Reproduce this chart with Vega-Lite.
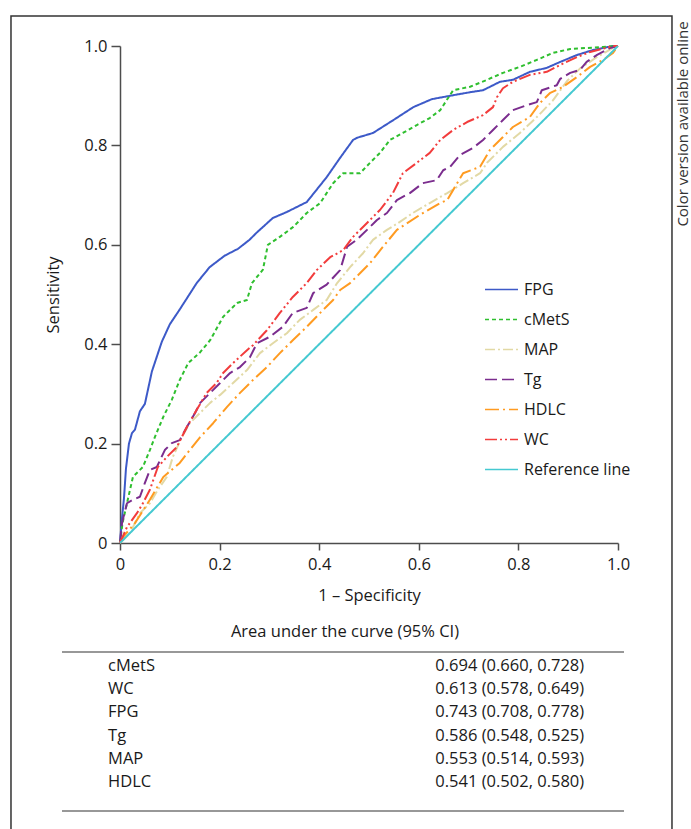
{
  "$schema": "https://vega.github.io/schema/vega-lite/v6.json",
  "autosize": {"type": "none"},
  "padding": {"left": 120, "top": 46, "right": 73, "bottom": 286},
  "width": 498,
  "height": 497,
  "background": "white",
  "config": {
    "view": {"stroke": null},
    "font": "Open Sans",
    "axis": {
      "grid": false,
      "domainColor": "#4d4d4d", "domainWidth": 1.5,
      "tickColor": "#4d4d4d", "tickWidth": 1.5, "tickSize": 8,
      "labelFont": "Open Sans", "labelFontSize": 16.5, "labelColor": "#1a1a1a",
      "titleFont": "Open Sans", "titleFontSize": 16.5, "titleFontWeight": "normal", "titleColor": "#1a1a1a",
      "labelFlush": false, "labelOverlap": false, "labelBound": false
    },
    "legend": {"labelFont": "Open Sans", "labelFontSize": 16, "labelColor": "#1a1a1a"}
  },
  "datasets": {
    "roc": [
      {"series": "FPG", "fpr": 0, "tpr": 0}, {"series": "FPG", "fpr": 0.004, "tpr": 0.05}, {"series": "FPG", "fpr": 0.008, "tpr": 0.09}, {"series": "FPG", "fpr": 0.012, "tpr": 0.15}, {"series": "FPG", "fpr": 0.018, "tpr": 0.2}, {"series": "FPG", "fpr": 0.024, "tpr": 0.221}, {"series": "FPG", "fpr": 0.03, "tpr": 0.228}, {"series": "FPG", "fpr": 0.04, "tpr": 0.265}, {"series": "FPG", "fpr": 0.05, "tpr": 0.28}, {"series": "FPG", "fpr": 0.064, "tpr": 0.345}, {"series": "FPG", "fpr": 0.084, "tpr": 0.405}, {"series": "FPG", "fpr": 0.1, "tpr": 0.44}, {"series": "FPG", "fpr": 0.12, "tpr": 0.47}, {"series": "FPG", "fpr": 0.154, "tpr": 0.523}, {"series": "FPG", "fpr": 0.18, "tpr": 0.555}, {"series": "FPG", "fpr": 0.21, "tpr": 0.578}, {"series": "FPG", "fpr": 0.237, "tpr": 0.592}, {"series": "FPG", "fpr": 0.26, "tpr": 0.61}, {"series": "FPG", "fpr": 0.275, "tpr": 0.625}, {"series": "FPG", "fpr": 0.307, "tpr": 0.654}, {"series": "FPG", "fpr": 0.335, "tpr": 0.666}, {"series": "FPG", "fpr": 0.375, "tpr": 0.686}, {"series": "FPG", "fpr": 0.415, "tpr": 0.736}, {"series": "FPG", "fpr": 0.442, "tpr": 0.775}, {"series": "FPG", "fpr": 0.468, "tpr": 0.811}, {"series": "FPG", "fpr": 0.475, "tpr": 0.815}, {"series": "FPG", "fpr": 0.508, "tpr": 0.825}, {"series": "FPG", "fpr": 0.549, "tpr": 0.851}, {"series": "FPG", "fpr": 0.589, "tpr": 0.877}, {"series": "FPG", "fpr": 0.626, "tpr": 0.893}, {"series": "FPG", "fpr": 0.669, "tpr": 0.901}, {"series": "FPG", "fpr": 0.703, "tpr": 0.907}, {"series": "FPG", "fpr": 0.729, "tpr": 0.911}, {"series": "FPG", "fpr": 0.763, "tpr": 0.928}, {"series": "FPG", "fpr": 0.789, "tpr": 0.932}, {"series": "FPG", "fpr": 0.823, "tpr": 0.948}, {"series": "FPG", "fpr": 0.857, "tpr": 0.956}, {"series": "FPG", "fpr": 0.884, "tpr": 0.968}, {"series": "FPG", "fpr": 0.918, "tpr": 0.982}, {"series": "FPG", "fpr": 0.95, "tpr": 0.992}, {"series": "FPG", "fpr": 0.99, "tpr": 1}, {"series": "FPG", "fpr": 1, "tpr": 1},
      {"series": "cMetS", "fpr": 0, "tpr": 0}, {"series": "cMetS", "fpr": 0.005, "tpr": 0.04}, {"series": "cMetS", "fpr": 0.014, "tpr": 0.08}, {"series": "cMetS", "fpr": 0.026, "tpr": 0.133}, {"series": "cMetS", "fpr": 0.046, "tpr": 0.153}, {"series": "cMetS", "fpr": 0.06, "tpr": 0.187}, {"series": "cMetS", "fpr": 0.07, "tpr": 0.213}, {"series": "cMetS", "fpr": 0.087, "tpr": 0.254}, {"series": "cMetS", "fpr": 0.104, "tpr": 0.288}, {"series": "cMetS", "fpr": 0.12, "tpr": 0.328}, {"series": "cMetS", "fpr": 0.137, "tpr": 0.362}, {"series": "cMetS", "fpr": 0.161, "tpr": 0.384}, {"series": "cMetS", "fpr": 0.181, "tpr": 0.408}, {"series": "cMetS", "fpr": 0.207, "tpr": 0.455}, {"series": "cMetS", "fpr": 0.235, "tpr": 0.483}, {"series": "cMetS", "fpr": 0.255, "tpr": 0.489}, {"series": "cMetS", "fpr": 0.265, "tpr": 0.523}, {"series": "cMetS", "fpr": 0.287, "tpr": 0.55}, {"series": "cMetS", "fpr": 0.297, "tpr": 0.6}, {"series": "cMetS", "fpr": 0.321, "tpr": 0.616}, {"series": "cMetS", "fpr": 0.348, "tpr": 0.636}, {"series": "cMetS", "fpr": 0.375, "tpr": 0.664}, {"series": "cMetS", "fpr": 0.402, "tpr": 0.684}, {"series": "cMetS", "fpr": 0.428, "tpr": 0.724}, {"series": "cMetS", "fpr": 0.448, "tpr": 0.744}, {"series": "cMetS", "fpr": 0.482, "tpr": 0.744}, {"series": "cMetS", "fpr": 0.502, "tpr": 0.765}, {"series": "cMetS", "fpr": 0.522, "tpr": 0.785}, {"series": "cMetS", "fpr": 0.542, "tpr": 0.811}, {"series": "cMetS", "fpr": 0.568, "tpr": 0.825}, {"series": "cMetS", "fpr": 0.596, "tpr": 0.841}, {"series": "cMetS", "fpr": 0.622, "tpr": 0.855}, {"series": "cMetS", "fpr": 0.643, "tpr": 0.871}, {"series": "cMetS", "fpr": 0.669, "tpr": 0.911}, {"series": "cMetS", "fpr": 0.703, "tpr": 0.918}, {"series": "cMetS", "fpr": 0.737, "tpr": 0.932}, {"series": "cMetS", "fpr": 0.769, "tpr": 0.946}, {"series": "cMetS", "fpr": 0.803, "tpr": 0.958}, {"series": "cMetS", "fpr": 0.837, "tpr": 0.972}, {"series": "cMetS", "fpr": 0.869, "tpr": 0.986}, {"series": "cMetS", "fpr": 0.904, "tpr": 0.994}, {"series": "cMetS", "fpr": 0.937, "tpr": 0.996}, {"series": "cMetS", "fpr": 0.97, "tpr": 0.998}, {"series": "cMetS", "fpr": 1, "tpr": 1},
      {"series": "MAP", "fpr": 0, "tpr": 0}, {"series": "MAP", "fpr": 0.02, "tpr": 0.02}, {"series": "MAP", "fpr": 0.04, "tpr": 0.06}, {"series": "MAP", "fpr": 0.06, "tpr": 0.08}, {"series": "MAP", "fpr": 0.076, "tpr": 0.107}, {"series": "MAP", "fpr": 0.094, "tpr": 0.133}, {"series": "MAP", "fpr": 0.106, "tpr": 0.173}, {"series": "MAP", "fpr": 0.124, "tpr": 0.213}, {"series": "MAP", "fpr": 0.14, "tpr": 0.241}, {"series": "MAP", "fpr": 0.161, "tpr": 0.262}, {"series": "MAP", "fpr": 0.181, "tpr": 0.282}, {"series": "MAP", "fpr": 0.201, "tpr": 0.298}, {"series": "MAP", "fpr": 0.227, "tpr": 0.322}, {"series": "MAP", "fpr": 0.255, "tpr": 0.348}, {"series": "MAP", "fpr": 0.281, "tpr": 0.382}, {"series": "MAP", "fpr": 0.307, "tpr": 0.402}, {"series": "MAP", "fpr": 0.335, "tpr": 0.422}, {"series": "MAP", "fpr": 0.361, "tpr": 0.449}, {"series": "MAP", "fpr": 0.388, "tpr": 0.469}, {"series": "MAP", "fpr": 0.415, "tpr": 0.489}, {"series": "MAP", "fpr": 0.436, "tpr": 0.523}, {"series": "MAP", "fpr": 0.462, "tpr": 0.555}, {"series": "MAP", "fpr": 0.488, "tpr": 0.583}, {"series": "MAP", "fpr": 0.508, "tpr": 0.61}, {"series": "MAP", "fpr": 0.536, "tpr": 0.63}, {"series": "MAP", "fpr": 0.562, "tpr": 0.646}, {"series": "MAP", "fpr": 0.588, "tpr": 0.664}, {"series": "MAP", "fpr": 0.622, "tpr": 0.684}, {"series": "MAP", "fpr": 0.657, "tpr": 0.704}, {"series": "MAP", "fpr": 0.689, "tpr": 0.724}, {"series": "MAP", "fpr": 0.723, "tpr": 0.744}, {"series": "MAP", "fpr": 0.737, "tpr": 0.765}, {"series": "MAP", "fpr": 0.769, "tpr": 0.797}, {"series": "MAP", "fpr": 0.803, "tpr": 0.825}, {"series": "MAP", "fpr": 0.837, "tpr": 0.857}, {"series": "MAP", "fpr": 0.869, "tpr": 0.89}, {"series": "MAP", "fpr": 0.898, "tpr": 0.93}, {"series": "MAP", "fpr": 0.924, "tpr": 0.955}, {"series": "MAP", "fpr": 0.958, "tpr": 0.978}, {"series": "MAP", "fpr": 0.99, "tpr": 0.996}, {"series": "MAP", "fpr": 1, "tpr": 1},
      {"series": "Tg", "fpr": 0, "tpr": 0}, {"series": "Tg", "fpr": 0.004, "tpr": 0.04}, {"series": "Tg", "fpr": 0.014, "tpr": 0.08}, {"series": "Tg", "fpr": 0.026, "tpr": 0.087}, {"series": "Tg", "fpr": 0.04, "tpr": 0.093}, {"series": "Tg", "fpr": 0.05, "tpr": 0.121}, {"series": "Tg", "fpr": 0.06, "tpr": 0.147}, {"series": "Tg", "fpr": 0.074, "tpr": 0.153}, {"series": "Tg", "fpr": 0.09, "tpr": 0.187}, {"series": "Tg", "fpr": 0.104, "tpr": 0.201}, {"series": "Tg", "fpr": 0.12, "tpr": 0.207}, {"series": "Tg", "fpr": 0.134, "tpr": 0.233}, {"series": "Tg", "fpr": 0.151, "tpr": 0.262}, {"series": "Tg", "fpr": 0.161, "tpr": 0.282}, {"series": "Tg", "fpr": 0.181, "tpr": 0.302}, {"series": "Tg", "fpr": 0.201, "tpr": 0.322}, {"series": "Tg", "fpr": 0.221, "tpr": 0.342}, {"series": "Tg", "fpr": 0.241, "tpr": 0.354}, {"series": "Tg", "fpr": 0.261, "tpr": 0.374}, {"series": "Tg", "fpr": 0.275, "tpr": 0.402}, {"series": "Tg", "fpr": 0.301, "tpr": 0.415}, {"series": "Tg", "fpr": 0.327, "tpr": 0.435}, {"series": "Tg", "fpr": 0.347, "tpr": 0.463}, {"series": "Tg", "fpr": 0.375, "tpr": 0.473}, {"series": "Tg", "fpr": 0.388, "tpr": 0.503}, {"series": "Tg", "fpr": 0.415, "tpr": 0.52}, {"series": "Tg", "fpr": 0.442, "tpr": 0.549}, {"series": "Tg", "fpr": 0.456, "tpr": 0.596}, {"series": "Tg", "fpr": 0.475, "tpr": 0.61}, {"series": "Tg", "fpr": 0.496, "tpr": 0.63}, {"series": "Tg", "fpr": 0.516, "tpr": 0.65}, {"series": "Tg", "fpr": 0.536, "tpr": 0.664}, {"series": "Tg", "fpr": 0.556, "tpr": 0.69}, {"series": "Tg", "fpr": 0.582, "tpr": 0.704}, {"series": "Tg", "fpr": 0.608, "tpr": 0.724}, {"series": "Tg", "fpr": 0.636, "tpr": 0.73}, {"series": "Tg", "fpr": 0.649, "tpr": 0.75}, {"series": "Tg", "fpr": 0.663, "tpr": 0.757}, {"series": "Tg", "fpr": 0.683, "tpr": 0.781}, {"series": "Tg", "fpr": 0.709, "tpr": 0.795}, {"series": "Tg", "fpr": 0.729, "tpr": 0.811}, {"series": "Tg", "fpr": 0.749, "tpr": 0.831}, {"series": "Tg", "fpr": 0.769, "tpr": 0.851}, {"series": "Tg", "fpr": 0.789, "tpr": 0.871}, {"series": "Tg", "fpr": 0.817, "tpr": 0.881}, {"series": "Tg", "fpr": 0.837, "tpr": 0.887}, {"series": "Tg", "fpr": 0.847, "tpr": 0.911}, {"series": "Tg", "fpr": 0.877, "tpr": 0.921}, {"series": "Tg", "fpr": 0.884, "tpr": 0.934}, {"series": "Tg", "fpr": 0.904, "tpr": 0.946}, {"series": "Tg", "fpr": 0.924, "tpr": 0.952}, {"series": "Tg", "fpr": 0.937, "tpr": 0.968}, {"series": "Tg", "fpr": 0.958, "tpr": 0.982}, {"series": "Tg", "fpr": 0.984, "tpr": 0.996}, {"series": "Tg", "fpr": 1, "tpr": 1},
      {"series": "HDLC", "fpr": 0, "tpr": 0}, {"series": "HDLC", "fpr": 0.006, "tpr": 0.012}, {"series": "HDLC", "fpr": 0.03, "tpr": 0.04}, {"series": "HDLC", "fpr": 0.06, "tpr": 0.087}, {"series": "HDLC", "fpr": 0.087, "tpr": 0.133}, {"series": "HDLC", "fpr": 0.12, "tpr": 0.161}, {"series": "HDLC", "fpr": 0.14, "tpr": 0.187}, {"series": "HDLC", "fpr": 0.161, "tpr": 0.213}, {"series": "HDLC", "fpr": 0.187, "tpr": 0.241}, {"series": "HDLC", "fpr": 0.215, "tpr": 0.274}, {"series": "HDLC", "fpr": 0.241, "tpr": 0.302}, {"series": "HDLC", "fpr": 0.267, "tpr": 0.328}, {"series": "HDLC", "fpr": 0.295, "tpr": 0.354}, {"series": "HDLC", "fpr": 0.321, "tpr": 0.382}, {"series": "HDLC", "fpr": 0.347, "tpr": 0.408}, {"series": "HDLC", "fpr": 0.375, "tpr": 0.435}, {"series": "HDLC", "fpr": 0.402, "tpr": 0.463}, {"series": "HDLC", "fpr": 0.428, "tpr": 0.489}, {"series": "HDLC", "fpr": 0.442, "tpr": 0.509}, {"series": "HDLC", "fpr": 0.462, "tpr": 0.523}, {"series": "HDLC", "fpr": 0.502, "tpr": 0.563}, {"series": "HDLC", "fpr": 0.528, "tpr": 0.596}, {"series": "HDLC", "fpr": 0.556, "tpr": 0.63}, {"series": "HDLC", "fpr": 0.602, "tpr": 0.66}, {"series": "HDLC", "fpr": 0.643, "tpr": 0.684}, {"series": "HDLC", "fpr": 0.657, "tpr": 0.69}, {"series": "HDLC", "fpr": 0.677, "tpr": 0.724}, {"series": "HDLC", "fpr": 0.689, "tpr": 0.744}, {"series": "HDLC", "fpr": 0.723, "tpr": 0.757}, {"series": "HDLC", "fpr": 0.743, "tpr": 0.791}, {"series": "HDLC", "fpr": 0.769, "tpr": 0.817}, {"series": "HDLC", "fpr": 0.789, "tpr": 0.837}, {"series": "HDLC", "fpr": 0.823, "tpr": 0.857}, {"series": "HDLC", "fpr": 0.843, "tpr": 0.885}, {"series": "HDLC", "fpr": 0.863, "tpr": 0.905}, {"series": "HDLC", "fpr": 0.89, "tpr": 0.918}, {"series": "HDLC", "fpr": 0.918, "tpr": 0.938}, {"series": "HDLC", "fpr": 0.944, "tpr": 0.958}, {"series": "HDLC", "fpr": 0.97, "tpr": 0.972}, {"series": "HDLC", "fpr": 0.99, "tpr": 0.986}, {"series": "HDLC", "fpr": 1, "tpr": 1},
      {"series": "WC", "fpr": 0, "tpr": 0}, {"series": "WC", "fpr": 0.014, "tpr": 0.032}, {"series": "WC", "fpr": 0.034, "tpr": 0.06}, {"series": "WC", "fpr": 0.046, "tpr": 0.08}, {"series": "WC", "fpr": 0.06, "tpr": 0.107}, {"series": "WC", "fpr": 0.076, "tpr": 0.153}, {"series": "WC", "fpr": 0.094, "tpr": 0.173}, {"series": "WC", "fpr": 0.114, "tpr": 0.193}, {"series": "WC", "fpr": 0.134, "tpr": 0.233}, {"series": "WC", "fpr": 0.154, "tpr": 0.268}, {"series": "WC", "fpr": 0.174, "tpr": 0.302}, {"series": "WC", "fpr": 0.194, "tpr": 0.322}, {"series": "WC", "fpr": 0.207, "tpr": 0.342}, {"series": "WC", "fpr": 0.227, "tpr": 0.362}, {"series": "WC", "fpr": 0.255, "tpr": 0.388}, {"series": "WC", "fpr": 0.267, "tpr": 0.398}, {"series": "WC", "fpr": 0.295, "tpr": 0.428}, {"series": "WC", "fpr": 0.321, "tpr": 0.463}, {"series": "WC", "fpr": 0.347, "tpr": 0.495}, {"series": "WC", "fpr": 0.375, "tpr": 0.523}, {"series": "WC", "fpr": 0.395, "tpr": 0.549}, {"series": "WC", "fpr": 0.422, "tpr": 0.575}, {"series": "WC", "fpr": 0.448, "tpr": 0.589}, {"series": "WC", "fpr": 0.468, "tpr": 0.616}, {"series": "WC", "fpr": 0.496, "tpr": 0.644}, {"series": "WC", "fpr": 0.522, "tpr": 0.67}, {"series": "WC", "fpr": 0.548, "tpr": 0.704}, {"series": "WC", "fpr": 0.568, "tpr": 0.744}, {"series": "WC", "fpr": 0.596, "tpr": 0.765}, {"series": "WC", "fpr": 0.622, "tpr": 0.785}, {"series": "WC", "fpr": 0.643, "tpr": 0.811}, {"series": "WC", "fpr": 0.669, "tpr": 0.831}, {"series": "WC", "fpr": 0.697, "tpr": 0.847}, {"series": "WC", "fpr": 0.729, "tpr": 0.861}, {"series": "WC", "fpr": 0.749, "tpr": 0.877}, {"series": "WC", "fpr": 0.757, "tpr": 0.897}, {"series": "WC", "fpr": 0.769, "tpr": 0.915}, {"series": "WC", "fpr": 0.789, "tpr": 0.928}, {"series": "WC", "fpr": 0.823, "tpr": 0.942}, {"series": "WC", "fpr": 0.857, "tpr": 0.948}, {"series": "WC", "fpr": 0.884, "tpr": 0.962}, {"series": "WC", "fpr": 0.918, "tpr": 0.978}, {"series": "WC", "fpr": 0.944, "tpr": 0.988}, {"series": "WC", "fpr": 0.99, "tpr": 1}, {"series": "WC", "fpr": 1, "tpr": 1},
      {"series": "Reference line", "fpr": 0, "tpr": 0}, {"series": "Reference line", "fpr": 1, "tpr": 1}
    ],
    "auc": [
      {"metric": "cMetS", "auc": "0.694 (0.660, 0.728)"},
      {"metric": "WC", "auc": "0.613 (0.578, 0.649)"},
      {"metric": "FPG", "auc": "0.743 (0.708, 0.778)"},
      {"metric": "Tg", "auc": "0.586 (0.548, 0.525)"},
      {"metric": "MAP", "auc": "0.553 (0.514, 0.593)"},
      {"metric": "HDLC", "auc": "0.541 (0.502, 0.580)"}
    ],
    "note": [{"text": "Color version available online"}],
    "heading": [{"text": "Area under the curve (95% CI)"}],
    "one": [{}]
  },
  "resolve": {"scale": {"y": "independent"}},
  "layer": [
    {
      "layer": [
        {
          "data": {"name": "roc"},
          "mark": {"type": "line", "strokeCap": "butt", "strokeJoin": "round"},
          "encoding": {
            "x": {"field": "fpr", "type": "quantitative", "scale": {"domain": [0, 1], "nice": false},
                  "axis": {"title": "1 – Specificity", "values": [0, 0.2, 0.4, 0.6, 0.8, 1], "labelExpr": "datum.value == 0 ? '0' : format(datum.value, '.1f')", "tickSize": 7, "labelPadding": 6, "titlePadding": 15}},
            "y": {"field": "tpr", "type": "quantitative", "scale": {"domain": [0, 1], "nice": false},
                  "axis": {"title": "Sensitivity", "values": [0, 0.2, 0.4, 0.6, 0.8, 1], "labelExpr": "datum.value == 0 ? '0' : format(datum.value, '.1f')", "tickSize": 9, "labelPadding": 4, "titlePadding": 22}},
            "color": {"field": "series", "type": "nominal",
                      "scale": {"domain": ["FPG", "cMetS", "MAP", "Tg", "HDLC", "WC", "Reference line"],
                                "range": ["#3d5ac8", "#2fbf2f", "#e2d9a5", "#7b2d8e", "#ff9b21", "#f23c3c", "#45c9d1"]},
                      "legend": {"orient": "none", "legendX": 364, "legendY": 226, "title": null, "symbolType": "stroke", "symbolSize": 1089, "labelOffset": 5, "rowPadding": 4, "labelFontSize": 16}},
            "strokeDash": {"field": "series", "type": "nominal",
                           "scale": {"domain": ["FPG", "cMetS", "MAP", "Tg", "HDLC", "WC", "Reference line"],
                                     "range": [[1, 0], [4, 3], [10, 3, 2, 3], [12, 5], [14, 4, 2, 4], [12, 3, 2, 3, 2, 3], [1, 0]]},
                           "legend": {"orient": "none", "legendX": 364, "legendY": 226, "title": null, "symbolType": "stroke", "symbolSize": 1089, "labelOffset": 5, "rowPadding": 4, "labelFontSize": 16}},
            "detail": {"field": "series"}
          }
        },
        {
          "data": {"name": "one"},
          "mark": {"type": "rect", "filled": false, "fill": null, "stroke": "#333333", "strokeWidth": 1.5},
          "encoding": {
            "x": {"datum": -0.2189, "type": "quantitative"},
            "x2": {"datum": 1.1084},
            "y": {"datum": 1.0604, "type": "quantitative"},
            "y2": {"datum": -0.585}
          }
        },
        {
          "data": {"name": "one"},
          "mark": {"type": "rule", "stroke": "#333333", "strokeWidth": 1.2},
          "encoding": {
            "x": {"datum": -0.1165, "type": "quantitative"},
            "x2": {"datum": 1.0121},
            "y": {"datum": -0.2193, "type": "quantitative"}
          }
        },
        {
          "data": {"name": "one"},
          "mark": {"type": "rule", "stroke": "#333333", "strokeWidth": 1.2},
          "encoding": {
            "x": {"datum": -0.1165, "type": "quantitative"},
            "x2": {"datum": 1.0121},
            "y": {"datum": -0.5392, "type": "quantitative"}
          }
        },
        {
          "data": {"name": "heading"},
          "mark": {"type": "text", "align": "center", "baseline": "middle", "fontSize": 16.5, "font": "Open Sans", "color": "#1a1a1a"},
          "encoding": {
            "x": {"datum": 0.4518, "type": "quantitative"},
            "y": {"datum": -0.179, "type": "quantitative"},
            "text": {"field": "text"}
          }
        },
        {
          "data": {"name": "note"},
          "mark": {"type": "text", "angle": 270, "align": "center", "baseline": "middle", "fontSize": 15, "font": "Open Sans", "color": "#333333"},
          "encoding": {
            "x": {"datum": 1.1305, "type": "quantitative"},
            "y": {"datum": 0.843, "type": "quantitative"},
            "text": {"field": "text"}
          }
        }
      ]
    },
    {
      "data": {"name": "auc"},
      "encoding": {
        "y": {"field": "metric", "type": "nominal", "sort": null, "scale": {"type": "point", "range": [620, 736], "padding": 0}, "axis": null}
      },
      "layer": [
        {
          "mark": {"type": "text", "align": "left", "baseline": "middle", "fontSize": 16.5, "font": "Open Sans", "color": "#1a1a1a"},
          "encoding": {"x": {"datum": -0.024, "type": "quantitative"}, "text": {"field": "metric"}}
        },
        {
          "mark": {"type": "text", "align": "right", "baseline": "middle", "fontSize": 16.5, "font": "Open Sans", "color": "#1a1a1a"},
          "encoding": {"x": {"datum": 0.932, "type": "quantitative"}, "text": {"field": "auc"}}
        }
      ]
    }
  ]
}
